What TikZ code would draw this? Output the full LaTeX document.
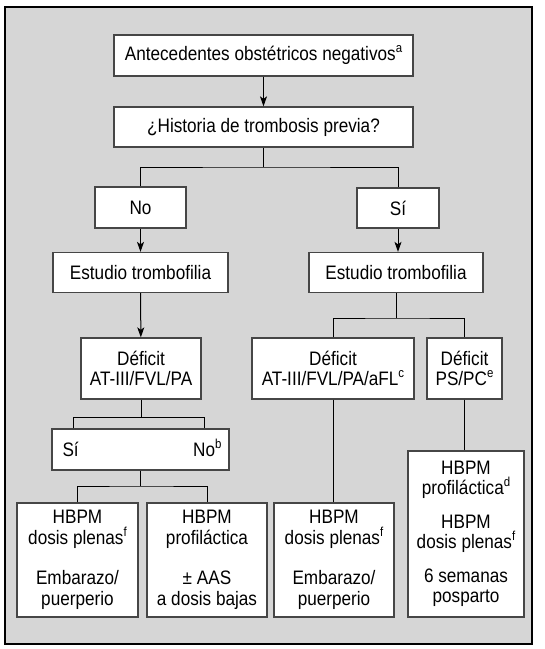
\documentclass[tikz,border=0pt]{standalone}
\usepackage{fontspec}
\setmainfont[FakeStretch=0.88]{Liberation Sans}
\usetikzlibrary{arrows.meta}
\definecolor{bggray}{RGB}{214,214,214}
\definecolor{boxline}{RGB}{70,70,70}
\newcommand\supr[1]{\raisebox{8pt}{\fontsize{13}{13}\selectfont #1}}
\begin{document}
\begin{tikzpicture}[x=1pt,y=-1pt,
  box/.style={draw=boxline, line width=1.3pt, fill=white, inner sep=0pt, align=center,
    font=\fontsize{19.5}{20.5}\selectfont},
  txt/.style={inner sep=0pt, font=\fontsize{19.5}{20.5}\selectfont},
  conn/.style={draw=black, line width=1pt},
  arr/.style={conn, -{Stealth[length=10pt,width=7pt,inset=2.5pt]}},
]
\useasboundingbox (0,0) rectangle (545,649);
\fill[white] (0,0) rectangle (545,649);
\draw[fill=bggray, line width=1.2pt] (5,7) rectangle (532,644);

% nodes
\node[box, minimum width=299pt, minimum height=41pt] (ant) at (263.5,55.5) {Antecedentes obstétricos negativos\supr{a}};
\node[box, minimum width=299pt, minimum height=40pt] (hist) at (263.5,127) {¿Historia de trombosis previa?};
\node[box, minimum width=91pt, minimum height=41pt] (no) at (140.5,207.5) {No};
\node[box, minimum width=82pt, minimum height=40pt] (si) at (398,208) {Sí};
\node[box, minimum width=175pt, minimum height=40pt] (estL) at (140.5,272.5) {Estudio trombofilia};
\node[box, minimum width=174pt, minimum height=40pt] (estR) at (396,272.5) {Estudio trombofilia};
\node[box, minimum width=120pt, minimum height=61pt] (defL) at (141,368.5) {Déficit\\AT-III/FVL/PA};
\node[box, minimum width=162pt, minimum height=61pt] (defAT) at (333,368.5) {Déficit\\AT-III/FVL/PA/aFL\supr{c}};
\node[box, minimum width=75pt, minimum height=61pt] (defPS) at (464.5,368.5) {Déficit\\PS/PC\supr{e}};
\node[box, minimum width=177pt, minimum height=41pt] (sino) at (140.5,449.5) {};
\node[txt, anchor=base west] (sinoL) at ([xshift=11pt,yshift=-7pt]sino.west) {Sí};
\node[txt, anchor=base east] (sinoR) at ([xshift=-8pt,yshift=-7pt]sino.east) {No\supr{b}};
\node[box, minimum width=121pt, minimum height=114pt] (hA) at (77.5,560) {HBPM\\dosis plenas\supr{f}\\[20pt]Embarazo/\\puerperio};
\node[box, minimum width=120pt, minimum height=114pt] (hB) at (207,560) {HBPM\\profiláctica\\[20pt]± AAS\\a dosis bajas};
\node[box, minimum width=120pt, minimum height=114pt] (hC) at (334,560) {HBPM\\dosis plenas\supr{f}\\[20pt]Embarazo/\\puerperio};
\node[box, minimum width=116pt, minimum height=166pt] (hD) at (466,534) {HBPM\\profiláctica\supr{d}\\[13pt]HBPM\\dosis plenas\supr{f}\\[13pt]6 semanas\\posparto};

% arrows
\draw[arr] (ant) -- (hist);
\draw[arr] (no) -- (estL);
\draw[arr] (si.south) -- (si.south |- estR.north);
\draw[arr] (estL) -- (defL);

% fork 1
\coordinate (r1) at (0,167);
\draw[conn] (hist.south) -- (hist.south |- r1) coordinate (f1);
\draw[conn] (no.north) |- (f1) -| (si.north);

% fork right
\coordinate (r2) at (0,318);
\draw[conn] (estR.south) -- (estR.south |- r2) coordinate (f2);
\draw[conn] (defAT.north) |- (f2) -| (defPS.north);
\draw[conn] (defAT.south) -- (defAT.south |- hC.north);
\draw[conn] (defPS.south) -- (defPS.south |- hD.north);

% fork left 2
\coordinate (r3) at (0,417);
\draw[conn] (defL.south) -- (defL.south |- r3) coordinate (f3);
\coordinate (f3l) at (73,417);
\coordinate (f3r) at (204,417);
\draw[conn] (f3l |- sino.north) -- (f3l) -- (f3r) -- (f3r |- sino.north);

% fork left 3
\coordinate (r4) at (0,486);
\draw[conn] (sino.south) -- (sino.south |- r4) coordinate (f4);
\draw[conn] (hA.north) |- (f4) -| (hB.north);
\end{tikzpicture}
\end{document}
